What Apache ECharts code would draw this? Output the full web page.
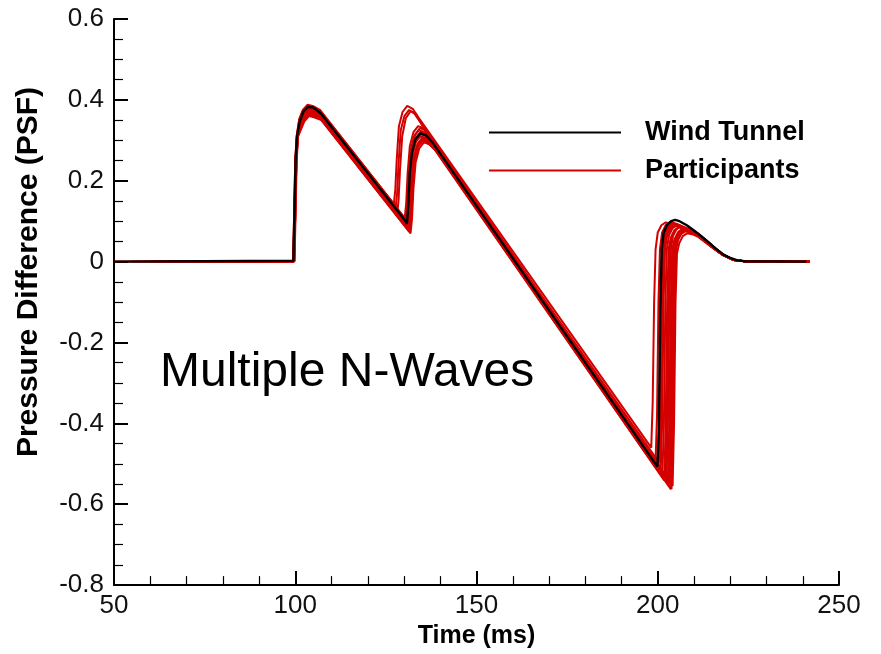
<!DOCTYPE html>
<html>
<head>
<meta charset="utf-8">
<script src="https://cdn.jsdelivr.net/npm/echarts@6/dist/echarts.min.js"></script>
<style>
  html, body { margin: 0; padding: 0; background: #fff; }
  #chart { width: 881px; height: 654px; }
</style>
</head>
<body>
<div id="chart"></div>
<script>
// Axis ranges and tick spacing
const xRange = [50, 250];
const xStep = 50;
const yRange = [-0.8, 0.6];
const yStep = 0.2;

const legendNames = ['Wind Tunnel', 'Participants'];
const panelNote = 'Multiple N-Waves';

// Wind tunnel reference signature: [time (ms), pressure difference (PSF)]
const windTunnel = [
  [50,0],[99.5,0.002],[99.8,0.12],[100.1,0.25],[100.5,0.31],[101.2,0.345],[102.2,0.37],[103.5,0.383],
  [105,0.381],[107,0.367],[130.2,0.103],[130.8,0.093],[131.2,0.14],[131.6,0.22],[132.2,0.27],
  [133.2,0.304],[134.5,0.317],[136,0.313],[138,0.293],[199.9,-0.507],[200.3,-0.42],[200.7,-0.12],
  [201.1,0.03],[201.6,0.07],[202.5,0.09],[203.7,0.1],[204.8,0.103],[206,0.1],[208,0.09],[210,0.077],
  [212,0.063],[214,0.048],[216,0.032],[218,0.018],[220,0.009],[222,0.003],[224,0.001],[241,0]
];

// Participant signatures
const participantA = [
  [60,0],[99.5,0.001],[99.8,0.12],[100.1,0.25],[100.5,0.31],[101.2,0.337],[102.2,0.359],[103.5,0.372],
  [104.9,0.369],[106.9,0.36],[130.8,0.088],[131.2,0.123],[131.6,0.198],[132.2,0.26],[133.2,0.295],
  [134.5,0.31],[136,0.305],[138,0.288],[200.8,-0.523],[201.2,-0.4],[201.6,-0.1],[202,0.03],[202.6,0.065],
  [203.6,0.083],[204.8,0.09],[206.5,0.084],[211,0.066],[215,0.037],[218,0.017],[221,0.004],[224,0.001],[241.5,0]
];
const participantB = [
  [75,0],[99.6,0.001],[99.9,0.12],[100.2,0.25],[100.6,0.31],[101.3,0.33],[102.3,0.352],[103.6,0.365],
  [105,0.362],[107,0.355],[131.3,0.079],[131.7,0.114],[132.1,0.189],[132.7,0.25],[133.7,0.285],[135,0.3],
  [136.5,0.295],[138.5,0.277],[201.8,-0.541],[202.2,-0.4],[202.6,-0.1],[203,0.03],[203.6,0.06],[204.6,0.078],
  [205.8,0.085],[207.5,0.079],[211,0.064],[215,0.036],[218,0.016],[221,0.004],[224,0.001],[242,0]
];
const participantC = [
  [50,0],[99.7,0.001],[100,0.12],[100.3,0.25],[100.7,0.31],[101.4,0.343],[102.4,0.365],[103.7,0.378],
  [105.1,0.375],[107.1,0.366],[130.4,0.101],[130.8,0.136],[131.2,0.211],[131.8,0.275],[132.8,0.31],
  [134.1,0.325],[135.6,0.32],[137.6,0.301],[200.3,-0.496],[200.7,-0.4],[201.1,-0.1],[201.5,0.03],[202.1,0.07],
  [203.1,0.088],[204.3,0.095],[206,0.09],[211,0.068],[215,0.038],[218,0.017],[221,0.004],[224,0.001],[241,0]
];
const participantD = [
  [80,0],[99.4,0.001],[99.7,0.12],[100,0.25],[100.4,0.31],[101.1,0.353],[102.1,0.375],[103.4,0.388],
  [104.8,0.385],[106.8,0.375],[127.2,0.143],[127.6,0.178],[128,0.253],[128.6,0.335],[129.6,0.37],
  [130.9,0.385],[132.4,0.378],[134.4,0.351],[198.2,-0.46],[198.6,-0.35],[199,-0.1],[199.4,0.03],[200,0.072],
  [201,0.09],[202.2,0.097],[203.9,0.093],[211,0.07],[215,0.04],[218,0.018],[221,0.004],[224,0.001],[242,0]
];
const participantE = [
  [85,0],[99.6,0.001],[99.9,0.12],[100.2,0.25],[100.6,0.31],[101.3,0.345],[102.3,0.367],[103.6,0.38],
  [105,0.377],[107,0.37],[127.7,0.134],[128.1,0.169],[128.5,0.244],[129.1,0.325],[130.1,0.36],[131.4,0.375],
  [132.9,0.366],[134.9,0.339],[202.8,-0.538],[203.2,-0.4],[203.6,-0.1],[204,0.03],[204.6,0.055],[205.6,0.073],
  [206.8,0.08],[208.5,0.075],[211,0.064],[215,0.036],[218,0.016],[221,0.004],[224,0.001],[241.5,0]
];
const participantF = [
  [90,0],[99.8,0.001],[100.1,0.12],[100.4,0.25],[100.8,0.31],[101.5,0.325],[102.5,0.347],[103.8,0.36],
  [105.2,0.357],[107.2,0.35],[131.8,0.07],[132.2,0.105],[132.6,0.18],[133.2,0.245],[134.2,0.28],[135.5,0.295],
  [137,0.29],[139,0.272],[203.6,-0.563],[204,-0.4],[204.4,-0.1],[204.8,0.025],[205.4,0.05],[206.4,0.068],
  [207.6,0.075],[209.3,0.071],[211,0.064],[215,0.035],[218,0.016],[221,0.004],[224,0.001],[242,0]
];
const participantG = [
  [70,0],[99.5,0.001],[99.8,0.12],[100.1,0.25],[100.5,0.31],[101.2,0.34],[102.2,0.362],[103.5,0.375],
  [104.9,0.372],[106.9,0.364],[131.1,0.089],[131.5,0.124],[131.9,0.199],[132.5,0.27],[133.5,0.305],
  [134.8,0.32],[136.3,0.315],[138.3,0.287],[202.4,-0.541],[202.8,-0.4],[203.2,-0.1],[203.6,0.03],[204.2,0.063],
  [205.2,0.081],[206.4,0.088],[208.1,0.082],[211,0.067],[215,0.037],[218,0.017],[221,0.004],[224,0.001],[241.8,0]
];
const participantH = [
  [95,0],[99.7,0.001],[100,0.12],[100.3,0.25],[100.7,0.31],[101.4,0.335],[102.4,0.357],[103.7,0.37],
  [105.1,0.367],[107.1,0.356],[128.1,0.117],[128.5,0.152],[128.9,0.227],[129.5,0.31],[130.5,0.355],
  [131.8,0.372],[133.3,0.366],[135.3,0.332],[201.3,-0.521],[201.7,-0.4],[202.1,-0.1],[202.5,0.03],[203.1,0.065],
  [204.1,0.083],[205.3,0.09],[207,0.085],[211,0.068],[215,0.038],[218,0.017],[221,0.004],[224,0.001],[242,0]
];
const participantI = [
  [65,0],[99.6,0.001],[99.9,0.12],[100.2,0.25],[100.6,0.31],[101.3,0.348],[102.3,0.37],[103.6,0.383],
  [105,0.38],[107,0.371],[130.7,0.101],[131.1,0.136],[131.5,0.211],[132.1,0.28],[133.1,0.315],[134.4,0.33],
  [135.9,0.325],[137.9,0.3],[204.1,-0.555],[204.5,-0.4],[204.9,-0.1],[205.3,0.02],[205.9,0.045],[206.9,0.063],
  [208.1,0.07],[209.8,0.067],[211,0.062],[215,0.035],[218,0.016],[221,0.004],[224,0.001],[241.7,0]
];
const participantJ = [
  [55,0],[99.5,0.001],[99.8,0.12],[100.1,0.25],[100.5,0.31],[101.2,0.333],[102.2,0.355],[103.5,0.368],
  [104.9,0.365],[106.9,0.362],[131.6,0.081],[132,0.116],[132.4,0.191],[133,0.255],[134,0.29],[135.3,0.305],
  [136.8,0.3],[138.8,0.275],[200.6,-0.524],[201,-0.4],[201.4,-0.1],[201.8,0.03],[202.4,0.067],[203.4,0.085],
  [204.6,0.092],[206.3,0.087],[211,0.068],[215,0.038],[218,0.017],[221,0.004],[224,0.001],[242,0]
];
const participantK = [
  [78,0],[99.6,0.001],[99.9,0.12],[100.2,0.25],[100.6,0.31],[101.3,0.341],[102.3,0.363],[103.6,0.376],
  [105,0.373],[107,0.365],[130.9,0.093],[131.3,0.128],[131.7,0.203],[132.3,0.265],[133.3,0.3],[134.6,0.315],
  [136.1,0.31],[138.1,0.292],[203.1,-0.548],[203.5,-0.4],[203.9,-0.1],[204.3,0.025],[204.9,0.057],[205.9,0.075],
  [207.1,0.082],[208.8,0.078],[211,0.066],[215,0.036],[218,0.016],[221,0.004],[224,0.001],[241.6,0]
];
const participantL = [
  [88,0],[99.7,0.001],[100,0.12],[100.3,0.25],[100.7,0.31],[101.4,0.327],[102.4,0.349],[103.7,0.362],
  [105.1,0.359],[107.1,0.352],[131.4,0.075],[131.8,0.11],[132.2,0.185],[132.8,0.248],[133.8,0.283],
  [135.1,0.298],[136.6,0.293],[138.6,0.278],[203.8,-0.562],[204.2,-0.4],[204.6,-0.1],[205,0.025],[205.6,0.055],
  [206.6,0.071],[207.8,0.078],[209.5,0.074],[211,0.067],[215,0.036],[218,0.016],[221,0.004],[224,0.001],[242,0]
];
const participantM = [
  [68,0],[99.4,0.001],[99.7,0.12],[100,0.25],[100.4,0.31],[101.1,0.35],[102.1,0.372],[103.4,0.385],
  [104.8,0.382],[106.8,0.374],[130.2,0.108],[130.6,0.143],[131,0.218],[131.6,0.285],[132.6,0.32],
  [133.9,0.335],[135.4,0.33],[137.4,0.309],[199.4,-0.492],[199.8,-0.38],[200.2,-0.1],[200.6,0.03],[201.2,0.072],
  [202.2,0.09],[203.4,0.098],[205.1,0.094],[211,0.07],[215,0.04],[218,0.018],[221,0.004],[224,0.001],[241.4,0]
];
const participantN = [
  [72,0],[99.7,0.001],[100,0.12],[100.3,0.25],[100.7,0.31],[101.4,0.332],[102.4,0.354],[103.7,0.367],
  [105.1,0.364],[107.1,0.357],[131.2,0.083],[131.6,0.118],[132,0.193],[132.6,0.253],[133.6,0.288],
  [134.9,0.303],[136.4,0.298],[138.4,0.282],[202.1,-0.541],[202.5,-0.4],[202.9,-0.1],[203.3,0.03],[203.9,0.061],
  [204.9,0.079],[206.1,0.086],[207.8,0.081],[211,0.066],[215,0.036],[218,0.016],[221,0.004],[224,0.001],[242,0]
];
const participantO = [
  [82,0],[99.6,0.001],[99.9,0.12],[100.2,0.25],[100.6,0.31],[101.3,0.344],[102.3,0.366],[103.6,0.379],
  [105,0.376],[107,0.369],[131,0.096],[131.4,0.131],[131.8,0.206],[132.4,0.272],[133.4,0.307],[134.7,0.322],
  [136.2,0.317],[138.2,0.292],[203.4,-0.55],[203.8,-0.4],[204.2,-0.1],[204.6,0.025],[205.2,0.054],[206.2,0.072],
  [207.4,0.079],[209.1,0.075],[211,0.066],[215,0.036],[218,0.016],[221,0.004],[224,0.001],[241.8,0]
];
const participantP = [
  [62,0],[99.5,0.001],[99.8,0.12],[100.1,0.25],[100.5,0.31],[101.2,0.335],[102.2,0.357],[103.5,0.37],
  [104.9,0.367],[106.9,0.362],[131.5,0.082],[131.9,0.117],[132.3,0.192],[132.9,0.258],[133.9,0.293],
  [135.2,0.308],[136.7,0.303],[138.7,0.281],[200,-0.511],[200.4,-0.4],[200.8,-0.1],[201.2,0.03],[201.8,0.069],
  [202.8,0.087],[204,0.094],[205.7,0.089],[211,0.069],[215,0.039],[218,0.017],[221,0.004],[224,0.001],[241.9,0]
];

const participants = [
  participantA, participantB, participantC, participantD, participantE, participantF, participantG, participantH,
  participantI, participantJ, participantK, participantL, participantM, participantN, participantO, participantP
];

const RED = '#d40000';
const FONT = '"Liberation Sans", Arial, Helvetica, sans-serif';

const chart = echarts.init(document.getElementById('chart'), null, { renderer: 'canvas' });

const participantSeries = participants.map(d => ({
  name: legendNames[1],
  type: 'line',
  data: d,
  showSymbol: false,
  symbol: 'none',
  lineStyle: { color: RED, width: 2 },
  itemStyle: { color: RED },
  z: 2,
  silent: true
}));

const windSeries = {
  name: legendNames[0],
  type: 'line',
  data: windTunnel,
  showSymbol: false,
  symbol: 'none',
  lineStyle: { color: '#000', width: 2.4 },
  itemStyle: { color: '#000' },
  z: 3,
  silent: true
};

chart.setOption({
  animation: false,
  backgroundColor: '#fff',
  grid: { left: 114, top: 19, width: 725, height: 568 },
  legend: {
    data: legendNames,
    orient: 'vertical',
    left: 489,
    top: 119,
    padding: 0,
    icon: 'path://M0,0H132V2H0Z',
    itemWidth: 132,
    itemHeight: 2.5,
    itemGap: 11,
    selectedMode: false,
    textStyle: {
      fontFamily: FONT,
      fontSize: 27,
      fontWeight: 'bold',
      color: '#000',
      padding: [0, 0, 0, 19]
    }
  },
  xAxis: {
    type: 'value',
    min: xRange[0],
    max: xRange[1],
    interval: xStep,
    axisLine: { onZero: false, lineStyle: { color: '#000', width: 2 } },
    axisTick: { inside: true, length: 14, lineStyle: { color: '#000', width: 2 } },
    minorTick: { show: true, splitNumber: 5, length: 9, lineStyle: { color: '#000', width: 1.2 } },
    splitLine: { show: false },
    axisLabel: { fontFamily: FONT, fontSize: 26, color: '#111', margin: 8 },
    name: 'Time (ms)',
    nameLocation: 'middle',
    nameGap: 36,
    nameTextStyle: { fontFamily: FONT, fontSize: 25, fontWeight: 'bold', color: '#000' }
  },
  yAxis: {
    type: 'value',
    min: yRange[0],
    max: yRange[1],
    interval: yStep,
    axisLine: { onZero: false, lineStyle: { color: '#000', width: 2 } },
    axisTick: { inside: true, length: 14, lineStyle: { color: '#000', width: 2 } },
    minorTick: { show: true, splitNumber: 4, length: 9, lineStyle: { color: '#000', width: 1.2 } },
    splitLine: { show: false },
    axisLabel: { fontFamily: FONT, fontSize: 26, color: '#111', margin: 10 },
    name: 'Pressure Difference (PSF)',
    nameLocation: 'middle',
    nameRotate: 90,
    nameGap: 70,
    nameTextStyle: { fontFamily: FONT, fontSize: 30, fontWeight: 'bold', color: '#000', padding: [0, 0, 0, 60] }
  },
  graphic: [{
    type: 'text',
    left: 160,
    top: 349,
    silent: true,
    style: { text: panelNote, fontFamily: FONT, fontSize: 48, fill: '#000' }
  }],
  series: [...participantSeries, windSeries]
});
</script>
</body>
</html>
